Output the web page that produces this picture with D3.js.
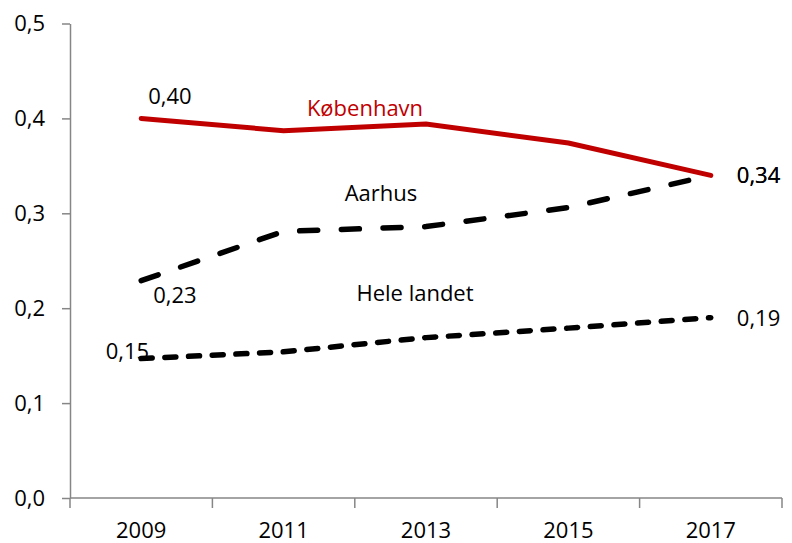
<!DOCTYPE html>
<html>
<head>
<meta charset="utf-8">
<script src="https://cdn.jsdelivr.net/npm/d3@7"></script>
<style>
  html, body { margin: 0; padding: 0; background: #fff; }
  svg { display: block; }
  text { font-family: "Open Sans", "Noto Sans", sans-serif; }
</style>
</head>
<body>
<svg id="chart" width="792" height="543"></svg>
<script>
const years = ["2009", "2011", "2013", "2015", "2017"];
const kobenhavn = [0.400, 0.387, 0.394, 0.374, 0.340];
const aarhus = [0.229, 0.281, 0.286, 0.306, 0.340];
const heleLandet = [0.147, 0.154, 0.169, 0.179, 0.190];
const yTicks = [0, 0.1, 0.2, 0.3, 0.4, 0.5];

const svg = d3.select("#chart");
const fmt = v => d3.format(".1f")(v).replace(".", ",");
const fmt2 = v => d3.format(".2f")(v).replace(".", ",");
const FS = 22;

const x = d3.scalePoint().domain(years).range([70, 782]).padding(0.5);
const y = d3.scaleLinear().domain([0, 0.5]).range([498, 23.5]);

// Y axis
const yAxis = svg.append("g").attr("transform", "translate(70,0)")
  .call(d3.axisLeft(y).tickValues(yTicks).tickFormat(fmt).tickSize(8).tickSizeOuter(0));
yAxis.select(".domain").attr("stroke", "#868686").attr("stroke-width", 1.5);
yAxis.selectAll(".tick line").attr("stroke", "#868686").attr("stroke-width", 1.5);
yAxis.selectAll(".tick text").attr("font-size", FS).attr("fill", "#000").attr("x", -25)
  .attr("font-family", "'Open Sans', sans-serif");

// X axis
const xAxisG = svg.append("g").attr("transform", "translate(0,498)");
xAxisG.append("line").attr("x1", 70).attr("x2", 782).attr("y1", 0).attr("y2", 0)
  .attr("stroke", "#868686").attr("stroke-width", 1.5);
const step = x.step();
const bounds = years.map(d => x(d) - step / 2).concat([x(years[years.length - 1]) + step / 2]);
xAxisG.selectAll("line.tk").data(bounds).enter().append("line").attr("class", "tk")
  .attr("x1", d => d).attr("x2", d => d).attr("y1", 0).attr("y2", 10)
  .attr("stroke", "#868686").attr("stroke-width", 1.5);
xAxisG.selectAll("text").data(years).enter().append("text")
  .attr("x", d => x(d)).attr("y", 40).attr("text-anchor", "middle")
  .attr("font-size", FS).attr("fill", "#000").text(d => d);

const line = d3.line().x((d, i) => x(years[i])).y(d => y(d));

svg.append("path").datum(heleLandet).attr("d", line).attr("fill", "none")
  .attr("stroke", "#000").attr("stroke-width", 5.5).attr("stroke-linecap", "round")
  .attr("stroke-dasharray", "11,12.7");
svg.append("path").datum(aarhus).attr("d", line).attr("fill", "none")
  .attr("stroke", "#000").attr("stroke-width", 5.5).attr("stroke-linecap", "round")
  .attr("stroke-dasharray", "18,23.7");
svg.append("path").datum(kobenhavn).attr("d", line).attr("fill", "none")
  .attr("stroke", "#C00000").attr("stroke-width", 5).attr("stroke-linecap", "round");

// Value labels
function lab(xp, yp, t, color, anchor) {
  svg.append("text").attr("x", xp).attr("y", yp).attr("font-size", FS)
    .attr("fill", color || "#000").attr("text-anchor", anchor || "start").text(t);
}
const last = years.length - 1;
lab(x(years[0]) + 7, y(kobenhavn[0]) - 14, fmt2(kobenhavn[0]));
lab(x(years[0]) + 12, y(aarhus[0]) + 22, fmt2(aarhus[0]));
lab(x(years[0]) + 8, y(heleLandet[0]) + 1, fmt2(heleLandet[0]), "#000", "end");
lab(x(years[last]) + 26, y(aarhus[last]) + 8, fmt2(aarhus[last]));
lab(x(years[last]) + 26, y(kobenhavn[last]) + 8, fmt2(kobenhavn[last]));
lab(x(years[last]) + 26, y(heleLandet[last]) + 8, fmt2(heleLandet[last]));

// Series name labels
lab(365, 116, "København", "#C00000", "middle");
lab(381, 201, "Aarhus", "#000", "middle");
lab(415, 301, "Hele landet", "#000", "middle");
</script>
</body>
</html>
